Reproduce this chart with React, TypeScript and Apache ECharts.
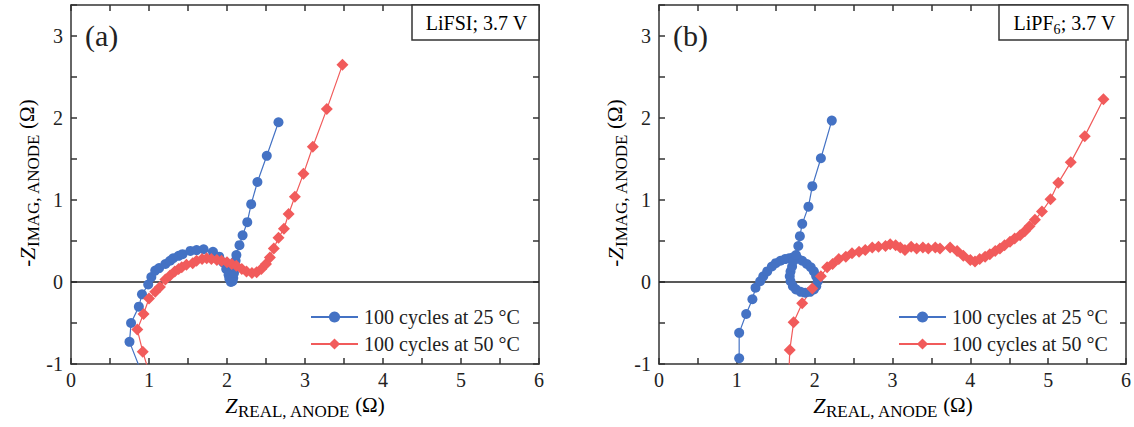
import React, { useEffect, useRef } from 'react';
import * as echarts from 'echarts';

// ---------- data ----------
const LEG_25 = '100 cycles at 25 °C';
const LEG_50 = '100 cycles at 50 °C';

const X_TICK_MIN = 0;
const X_TICK_MAX = 6;
const Y_TICK_MIN = -1;
const Y_TICK_MAX = 3.38;

// panel (a) LiFSI
const A_25: [number, number][] = [
  [0.87, -1.02], [0.75, -0.73], [0.77, -0.5], [0.87, -0.3], [0.91, -0.15], [0.99, -0.03],
  [1.03, 0.06], [1.08, 0.14], [1.13, 0.17], [1.21, 0.22], [1.27, 0.26], [1.31, 0.29],
  [1.38, 0.32], [1.43, 0.34], [1.53, 0.38], [1.61, 0.39], [1.70, 0.40], [1.82, 0.37],
  [1.90, 0.31], [1.95, 0.24], [1.99, 0.16], [2.02, 0.09], [2.03, 0.04], [2.05, 0.0],
  [2.07, 0.01], [2.08, 0.05], [2.09, 0.11], [2.10, 0.18], [2.11, 0.26], [2.12, 0.33],
  [2.16, 0.45], [2.20, 0.57], [2.26, 0.73], [2.31, 0.95], [2.39, 1.22], [2.51, 1.54],
  [2.66, 1.95],
];
const A_50: [number, number][] = [
  [1.0, -1.1], [0.92, -0.85], [0.85, -0.58], [0.93, -0.39], [1.0, -0.2], [1.08, -0.12],
  [1.14, -0.06], [1.21, 0.03], [1.27, 0.08], [1.33, 0.13], [1.38, 0.16], [1.42, 0.18],
  [1.48, 0.21], [1.56, 0.23], [1.61, 0.26], [1.68, 0.28], [1.74, 0.29], [1.80, 0.28],
  [1.87, 0.27], [1.93, 0.26], [2.0, 0.24], [2.06, 0.22], [2.12, 0.2], [2.19, 0.16],
  [2.25, 0.13], [2.32, 0.11], [2.38, 0.12], [2.44, 0.16], [2.50, 0.22], [2.55, 0.3],
  [2.60, 0.41], [2.66, 0.54], [2.73, 0.65], [2.79, 0.83], [2.87, 1.04], [2.98, 1.32],
  [3.10, 1.65], [3.28, 2.11], [3.48, 2.65],
];

// panel (b) LiPF6
const B_25: [number, number][] = [
  [1.03, -0.93], [1.03, -0.62], [1.12, -0.39], [1.20, -0.21], [1.24, -0.07], [1.30, 0.01],
  [1.34, 0.07], [1.39, 0.13], [1.45, 0.19], [1.50, 0.23], [1.56, 0.26], [1.62, 0.28],
  [1.67, 0.29], [1.72, 0.30], [1.78, 0.29], [1.84, 0.26], [1.90, 0.22], [1.95, 0.18],
  [1.99, 0.13], [2.02, 0.07], [2.04, 0.01], [2.02, -0.05], [1.99, -0.09], [1.94, -0.12],
  [1.88, -0.13], [1.82, -0.12], [1.76, -0.09], [1.72, -0.05], [1.69, 0.01], [1.68, 0.07],
  [1.69, 0.13], [1.71, 0.19], [1.73, 0.26], [1.76, 0.33], [1.79, 0.44], [1.81, 0.56],
  [1.84, 0.71], [1.92, 0.92], [1.97, 1.17], [2.08, 1.51], [2.22, 1.97],
];
const B_50: [number, number][] = [
  [1.67, -1.1], [1.68, -0.83], [1.73, -0.49], [1.84, -0.26], [1.97, -0.08], [2.08, 0.07],
  [2.16, 0.18], [2.23, 0.22], [2.31, 0.28], [2.40, 0.31], [2.48, 0.35], [2.57, 0.37],
  [2.65, 0.39], [2.74, 0.42], [2.82, 0.43], [2.91, 0.44], [2.97, 0.46], [3.04, 0.45],
  [3.10, 0.42], [3.16, 0.39], [3.24, 0.43], [3.31, 0.41], [3.39, 0.42], [3.46, 0.41],
  [3.55, 0.42], [3.61, 0.41], [3.74, 0.42], [3.83, 0.38], [3.91, 0.32], [4.0, 0.27],
  [4.06, 0.25], [4.12, 0.28], [4.19, 0.31], [4.25, 0.34], [4.32, 0.38], [4.38, 0.41],
  [4.44, 0.45], [4.51, 0.49], [4.57, 0.53], [4.64, 0.57], [4.70, 0.62], [4.76, 0.68],
  [4.83, 0.76], [4.92, 0.86], [5.03, 1.01], [5.13, 1.21], [5.29, 1.46], [5.47, 1.78],
  [5.71, 2.23],
];

const ZERO_LINE: [number, number][] = [[0, 0], [6, 0]];

// ---------- styles ----------
const FONT = '"Liberation Serif", "DejaVu Serif", serif';
const TXT = '#222';
const AXC = '#333';
const BLUE = '#4472C4';
const RED = '#F15B5B';

const GRIDS = [
  { left: 71, top: 5, width: 468, height: 359 },
  { left: 659, top: 5, width: 469, height: 359 },
];

function intLabel(v: number) {
  return Math.abs(v - Math.round(v)) < 1e-6 ? String(Math.round(v)) : '';
}

function xAxes(gi: number) {
  const base = {
    type: 'value', gridIndex: gi, min: X_TICK_MIN, max: X_TICK_MAX, interval: 0.5,
    splitLine: { show: false },
    axisLine: { show: true, onZero: false, lineStyle: { color: AXC, width: 1.5 } },
    axisTick: { show: true, inside: true, length: 6, lineStyle: { color: AXC, width: 1.5 } },
  };
  return [
    { ...base, position: 'bottom',
      axisLabel: { show: true, formatter: intLabel, fontFamily: FONT, fontSize: 20, color: TXT, margin: 6 } },
    { ...base, position: 'top', axisLabel: { show: false } },
  ];
}
function yAxes(gi: number) {
  const base = {
    type: 'value', gridIndex: gi, min: Y_TICK_MIN, max: Y_TICK_MAX, interval: 0.5,
    splitLine: { show: false },
    axisLine: { show: true, onZero: false, lineStyle: { color: AXC, width: 1.5 } },
    axisTick: { show: true, inside: true, length: 6, lineStyle: { color: AXC, width: 1.5 } },
  };
  return [
    { ...base, position: 'left',
      axisLabel: { show: true, formatter: intLabel, fontFamily: FONT, fontSize: 20, color: TXT, margin: 8 } },
    { ...base, position: 'right', axisLabel: { show: false } },
  ];
}

function dataSeries(name: string, data: [number, number][], xi: number, yi: number, blue: boolean) {
  const c = blue ? BLUE : RED;
  return {
    type: 'line', name, data, xAxisIndex: xi, yAxisIndex: yi,
    symbol: blue ? 'circle' : 'diamond', symbolSize: blue ? 10 : 12,
    itemStyle: { color: c }, lineStyle: { color: c, width: 1.2 },
    clip: true, z: 3, silent: true,
  };
}

function legend(left: number) {
  return {
    data: [LEG_25, LEG_50], orient: 'vertical', left, top: 302,
    itemWidth: 47, itemHeight: 14, itemGap: 7,
    textStyle: { fontFamily: FONT, fontSize: 20, color: TXT, padding: [0, 0, 0, 1] },
    selectedMode: false,
  };
}

const richSub = {
  m: { fontFamily: FONT, fontSize: 21, color: TXT, lineHeight: 30, verticalAlign: 'middle' },
  z: { fontFamily: FONT, fontSize: 22, fontStyle: 'italic', color: TXT, lineHeight: 30, verticalAlign: 'middle' },
  s: { fontFamily: FONT, fontSize: 17, color: TXT, lineHeight: 14, verticalAlign: 'bottom' },
  o: { fontFamily: FONT, fontSize: 21, color: TXT, lineHeight: 30, verticalAlign: 'middle' },
};

const richBox = {
  n: { fontFamily: FONT, fontSize: 20, color: TXT, lineHeight: 26, verticalAlign: 'middle' },
  s: { fontFamily: FONT, fontSize: 14, color: TXT, lineHeight: 14, verticalAlign: 'bottom' },
};

function panelGraphics(dx: number, letter: string, boxText: string, boxX: number, boxW: number) {
  return [
    { type: 'text', x: 85 + dx, y: 35, z: 10,
      style: { text: letter, fontFamily: FONT, fontSize: 30, fill: TXT, textAlign: 'left', textVerticalAlign: 'middle' } },
    { type: 'rect', shape: { x: boxX, y: 5, width: boxW, height: 35 }, z: 10,
      style: { fill: '#fff', stroke: AXC, lineWidth: 1.5 } },
    { type: 'text', x: boxX + boxW / 2 + 1, y: 23, z: 11,
      style: { text: boxText, rich: richBox, textAlign: 'center', textVerticalAlign: 'middle' } },
    { type: 'text', x: 305 + dx, y: 405, z: 10,
      style: { text: '{z|Z}{s|REAL, ANODE}{o| (Ω)}', rich: richSub, textAlign: 'center', textVerticalAlign: 'middle' } },
    { type: 'text', x: 27 + dx, y: 183, rotation: Math.PI / 2, z: 10,
      style: { text: '{m|-}{z|Z}{s|IMAG, ANODE}{o| (Ω)}', rich: richSub, textAlign: 'center', textVerticalAlign: 'middle' } },
  ];
}

export default function App() {
  const ref = useRef<HTMLDivElement>(null);
  useEffect(() => {
    if (!ref.current) return;
    const chart = echarts.init(ref.current, null, { renderer: 'svg' });
    const zeroSeries = (xi: number, yi: number) => ({
      type: 'line', name: 'zero' + xi, data: ZERO_LINE, xAxisIndex: xi, yAxisIndex: yi,
      symbol: 'none', lineStyle: { color: '#222', width: 1.5 }, z: 1, silent: true,
    });
    chart.setOption({
      animation: false,
      backgroundColor: '#fff',
      grid: GRIDS,
      xAxis: [...xAxes(0), ...xAxes(1)],
      yAxis: [...yAxes(0), ...yAxes(1)],
      legend: [legend(305), legend(893)],
      series: [
        zeroSeries(0, 0),
        dataSeries(LEG_25, A_25, 0, 0, true),
        dataSeries(LEG_50, A_50, 0, 0, false),
        zeroSeries(2, 2),
        dataSeries(LEG_25, B_25, 2, 2, true),
        dataSeries(LEG_50, B_50, 2, 2, false),
      ],
      graphic: [
        ...panelGraphics(0, '(a)', '{n|LiFSI; 3.7 V}', 412, 127),
        ...panelGraphics(588, '(b)', '{n|LiPF}{s|6}{n|; 3.7 V}', 999, 129),
      ],
    });
    return () => chart.dispose();
  }, []);
  return <div ref={ref} style={{ position: 'fixed', left: 0, top: 0, width: 1134, height: 427 }} />;
}
